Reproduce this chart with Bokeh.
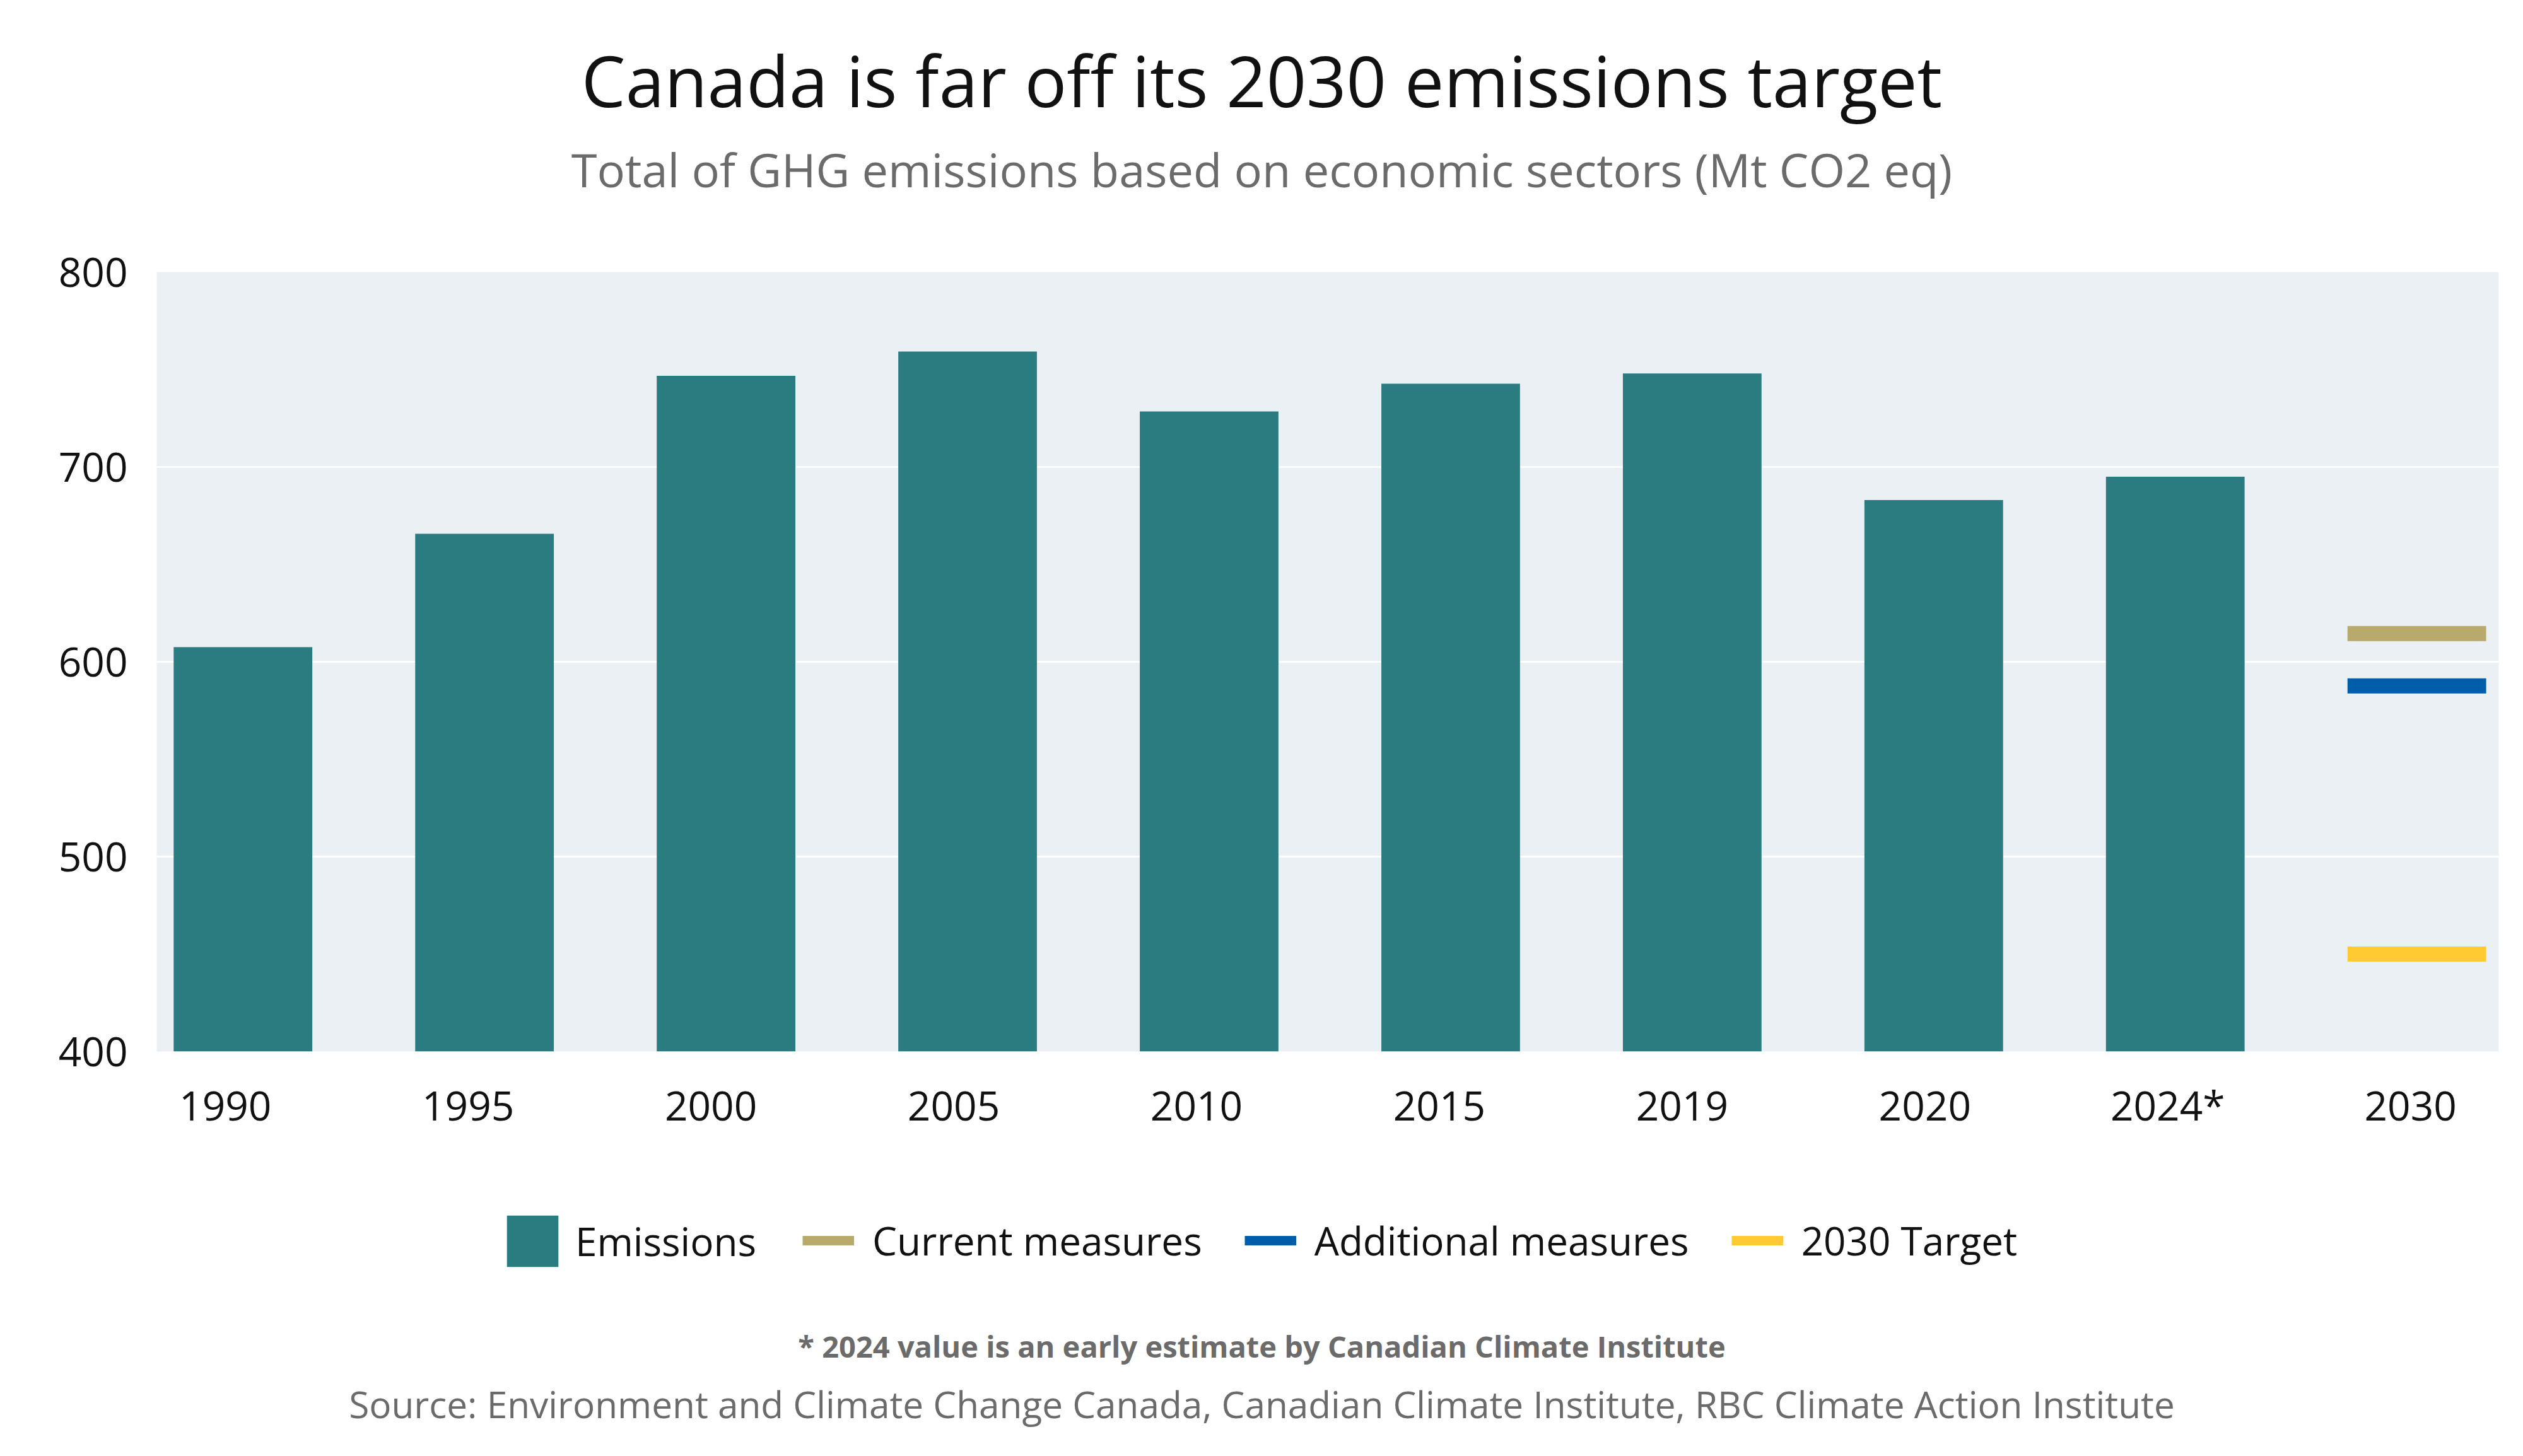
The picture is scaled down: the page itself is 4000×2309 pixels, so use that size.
from bokeh.plotting import figure
from bokeh.layouts import column
from bokeh.models import (Label, Legend, LegendItem, FixedTicker, Range1d,
                          CustomJSTickFormatter)
from bokeh.embed import file_html
from bokeh.resources import INLINE

# ---- data ----
years = ["1990", "1995", "2000", "2005", "2010", "2015", "2019", "2020", "2024*", "2030"]
emissions = [607.5, 665.7, 746.8, 759.2, 728.5, 742.7, 748.0, 683.0, 695.0]
projection_labels = ["Current measures", "Additional measures", "2030 Target"]
projection_values = [614.5, 587.6, 450.0]
projection_colors = ["#B8A96D", "#005DA9", "#FFCA32"]
y_ticks = [400, 500, 600, 700, 800]

title_text = "Canada is far off its 2030 emissions target"
subtitle_text = "Total of GHG emissions based on economic sectors (Mt CO2 eq)"
note_text = "* 2024 value is an early estimate by Canadian Climate Institute"
source_text = "Source: Environment and Climate Change Canada, Canadian Climate Institute, RBC Climate Action Institute"

FONT = "Open Sans"
BAR_COLOR = "#2B7C80"
BG = "#EAF0F3"
GREY = "#6b6b6b"
BAR_W = 0.574
LABEL_SHIFT, LABEL_DRIFT = -0.073, 0.0052   # category labels sit slightly left of the bars
NAN = float("nan")

W = 4000
TOP_H = 331                   # title block
M_TOP, M_BOT, M_LEFT, M_RIGHT = 100, 150, 248, 39
FRAME_H = 1236
MAIN_H = M_TOP + FRAME_H + M_BOT
BOT_H = 492                   # legend + notes block
CX = W / 2 - M_LEFT           # page centre relative to the (shared) frame left edge
MID = 0.388                   # half of (ascent - descent) for the font, in em


def blank(height):
    f = figure(width=W, height=height, output_backend="svg", toolbar_location=None,
               x_axis_type=None, y_axis_type=None,
               x_range=Range1d(0, W), y_range=Range1d(0, height),
               min_border=0)
    f.outline_line_color = None
    f.xgrid.visible = False
    f.ygrid.visible = False
    f.background_fill_color = "white"
    f.border_fill_color = "white"
    return f


def add_text(f, height, text, baseline_from_top, size, style, color):
    mid = baseline_from_top - MID * size
    f.add_layout(Label(x=CX, y=height - mid, x_units="screen", y_units="screen",
                       text=text, text_align="center", text_baseline="middle",
                       text_font=FONT, text_font_size=f"{size}px", text_font_style=style,
                       text_color=color))


# ---- title block ----
top = blank(TOP_H)
add_text(top, TOP_H, title_text, 170, 111, "normal", "#111111")
add_text(top, TOP_H, subtitle_text, 297, 74, "normal", GREY)

# ---- chart ----
x_pos = list(range(len(years)))
bar_x = x_pos[:len(emissions)]
proj_x = x_pos[-1]

p = figure(width=W, height=MAIN_H, output_backend="svg", toolbar_location=None,
           x_range=Range1d(-0.357, len(years) - 1 + 0.339),
           y_range=Range1d(y_ticks[0], y_ticks[-1]),
           min_border_left=M_LEFT, min_border_right=M_RIGHT,
           min_border_top=M_TOP, min_border_bottom=M_BOT)
p.background_fill_color = BG
p.border_fill_color = "white"
p.outline_line_color = None

p.vbar(x=bar_x, top=emissions, bottom=y_ticks[0], width=BAR_W,
       fill_color=BAR_COLOR, line_color=None)
for v, c in zip(projection_values, projection_colors):
    p.rect(x=proj_x, y=v, width=BAR_W, height=24, height_units="screen",
           fill_color=c, line_color=None)

p.xaxis.ticker = FixedTicker(ticks=[x + LABEL_SHIFT + LABEL_DRIFT * x for x in x_pos])
p.xaxis.formatter = CustomJSTickFormatter(args=dict(labels=years),
                                          code="return labels[Math.round(tick)] || '';")
p.yaxis.ticker = FixedTicker(ticks=y_ticks)
for ax in (p.xaxis, p.yaxis):
    ax.axis_line_color = None
    ax.major_tick_line_color = None
    ax.minor_tick_line_color = None
    ax.major_label_text_font = FONT
    ax.major_label_text_font_size = "64px"
    ax.major_label_text_color = "#111111"
p.xaxis.major_label_standoff = 35
p.yaxis.major_label_standoff = 40

p.xgrid.grid_line_color = None
p.ygrid.ticker = FixedTicker(ticks=y_ticks)
p.ygrid.grid_line_color = "white"
p.ygrid.grid_line_width = 3

# ---- legend + notes block ----
bot = blank(BOT_H)
key_bar = bot.vbar(x=[NAN], top=[NAN], width=1, fill_color=BAR_COLOR, line_color=None)
key_lines = [bot.line(x=[NAN], y=[NAN], line_color=c, line_width=15) for c in projection_colors]

legend_style = dict(orientation="horizontal", padding=0, margin=0,
                    border_line_alpha=0, background_fill_alpha=0,
                    label_text_font=FONT, label_text_font_size="62px",
                    label_text_color="#111111")
# square key (area keys are drawn with a 10% inset, hence the larger glyph box)
legend_bar = Legend(items=[LegendItem(label="Emissions", renderers=[key_bar])],
                    location=(545, 290.5), glyph_width=102, glyph_height=102,
                    label_standoff=17, **legend_style)
legend_lines = Legend(items=[LegendItem(label=lab, renderers=[r])
                             for lab, r in zip(projection_labels, key_lines)],
                      location=(1024, 300), glyph_width=82, glyph_height=82,
                      label_standoff=29, spacing=67, **legend_style)
bot.add_layout(legend_bar, "center")
bot.add_layout(legend_lines, "center")
add_text(bot, BOT_H, note_text, 2153 - (TOP_H + MAIN_H), 47, "bold", GREY)
add_text(bot, BOT_H, source_text, 2248 - (TOP_H + MAIN_H), 58.5, "normal", GREY)

layout = column(top, p, bot, spacing=0)
open("out.html", "w").write(file_html(layout, INLINE))
